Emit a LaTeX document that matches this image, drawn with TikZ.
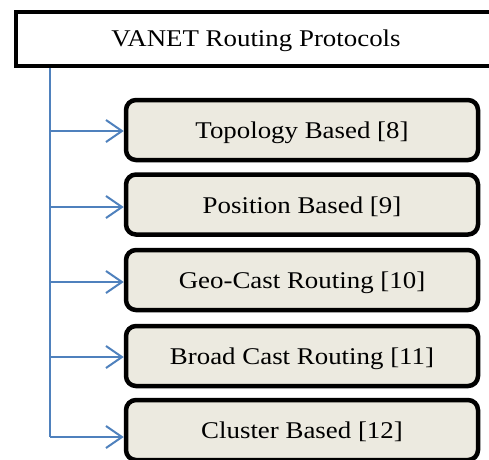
\documentclass[tikz,border=0pt]{standalone}
\usepackage{fontspec}
\usepackage{graphicx}
\setmainfont{Liberation Serif}
\usetikzlibrary{arrows.meta}
\definecolor{boxfill}{HTML}{ECEAE0}
\definecolor{linkblue}{HTML}{4F81BD}
% wide body text used in every box
\newcommand{\boxtext}[1]{\scalebox{1.12}[1]{\fontsize{24}{28}\selectfont #1}}
\tikzset{
  rootbox/.style={draw=black, fill=white, line width=4pt},
  protobox/.style={draw=black, fill=boxfill, line width=4.5pt, rounded corners=10pt,
    minimum width=352pt, minimum height=60pt, inner sep=0pt,
    text height=20pt, text depth=3pt},
  link/.style={draw=linkblue, line width=2pt,
    -{Straight Barb[length=16pt,width=22pt,line width=2pt]}},
  trunk/.style={draw=linkblue, line width=2pt}
}
\begin{document}
\begin{tikzpicture}[x=1pt,y=-1pt]
  \useasboundingbox (0,0) rectangle (489,459);
  \clip (0,0) rectangle (489,459);

  % root node, running off the right edge
  \draw[rootbox] (16,12) rectangle (540,66);
  \node[inner sep=0pt, text height=20pt, text depth=3pt] (root) at (256,38)
    {\boxtext{VANET Routing Protocols}};
  \coordinate (rootfoot) at (50,68);

  % protocol families
  \node[protobox] (topo) at (302,130)   {\boxtext{Topology Based [8]}};
  \node[protobox] (pos)  at (302,204.5) {\boxtext{Position Based [9]}};
  \node[protobox] (geo)  at (302,280)   {\boxtext{Geo-Cast Routing [10]}};
  \node[protobox] (bc)   at (302,356)   {\boxtext{Broad Cast Routing [11]}};
  \node[protobox] (clu)  at (302,430)   {\boxtext{Cluster Based [12]}};

  % branch points on the trunk
  \coordinate (b1) at (50,131);
  \coordinate (b2) at (50,207);
  \coordinate (b3) at (50,282);
  \coordinate (b4) at (50,357);
  \coordinate (b5) at (50,437);

  \draw[trunk] (rootfoot) -- (b5);
  \draw[link] (b1) -- (b1 -| topo.west);
  \draw[link] (b2) -- (b2 -| pos.west);
  \draw[link] (b3) -- (b3 -| geo.west);
  \draw[link] (b4) -- (b4 -| bc.west);
  \draw[link] (b5) -- (b5 -| clu.west);
\end{tikzpicture}
\end{document}
